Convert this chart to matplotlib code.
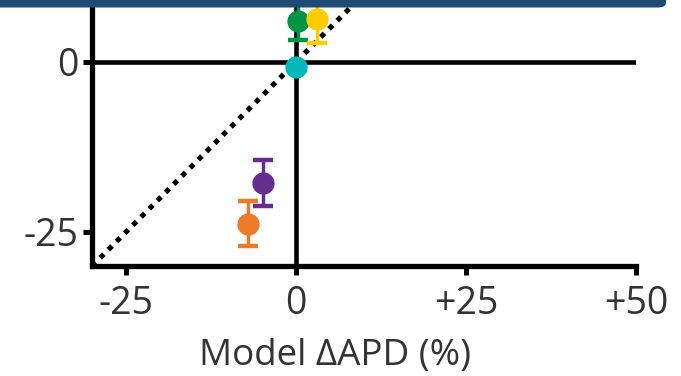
import matplotlib
matplotlib.use("Agg")
import matplotlib.pyplot as plt
from matplotlib.patches import FancyBboxPatch

# Model vs. measured APD change, one point per condition
model_dapd = [0.3, 3.1, 0.0, -4.8, -7.1]
measured_dapd = [6.0, 6.3, -0.8, -17.8, -23.8]
measured_err = [2.8, 3.5, 0.0, 3.4, 3.3]
point_colors = ["#009444", "#FFCC00", "#00B8BA", "#662D91", "#EC7A28"]

x_ticks = [-25, 0, 25, 50]
x_tick_labels = ["-25", "0", "+25", "+50"]
y_ticks = [-25, 0]
y_tick_labels = ["-25", "0"]

plt.rcParams["font.family"] = ["Open Sans", "DejaVu Sans"]
text_color = "#333333"

fig = plt.figure(figsize=(6.81, 3.76), dpi=100)
ax = fig.add_axes([92 / 681, 1 - 266 / 376, (636 - 92) / 681, 266 / 376])
ax.set_xlim(-30, 50)
ax.set_ylim(-30, 9.1)

# zero lines and identity line
ax.axhline(0, color="black", lw=3.3, zorder=2)
ax.axvline(0, color="black", lw=3.3, zorder=2)
ax.plot([-30, 12], [-30, 12], color="black", lw=3.7, ls=(0, (1, 1.25)),
        zorder=2)

for x, y, e, c in zip(model_dapd, measured_dapd, measured_err, point_colors):
    ax.errorbar(x, y, yerr=e if e > 0 else None, fmt="o", color=c, ms=15,
                elinewidth=2.5, capsize=7.2, capthick=3.2, zorder=4)

for side in ("top", "right"):
    ax.spines[side].set_visible(False)
for side in ("left", "bottom"):
    ax.spines[side].set_linewidth(3.8)
    ax.spines[side].set_color("black")

ax.set_xticks(x_ticks)
ax.set_xticklabels(x_tick_labels)
ax.set_yticks(y_ticks)
ax.set_yticklabels(y_tick_labels)
ax.tick_params(axis="both", direction="out", length=6.5, width=3.6,
               color="black", labelsize=27, labelcolor=text_color)
ax.tick_params(axis="x", pad=7)
ax.tick_params(axis="y", pad=3)
ax.set_xlabel("Model \u0394APD (%)", fontsize=26.5, color=text_color)
ax.xaxis.set_label_coords(0.447, -0.27)

# header band across the top
band = FancyBboxPatch((-0.05, 1 - 7.5 / 376), 666 / 681 + 0.05,
                      0.2, boxstyle="round,pad=0,rounding_size=0.012",
                      transform=fig.transFigure, facecolor="#1F4A73",
                      edgecolor="none", zorder=10, clip_on=False)
fig.patches.append(band)

fig.savefig("out.png", dpi=100)
